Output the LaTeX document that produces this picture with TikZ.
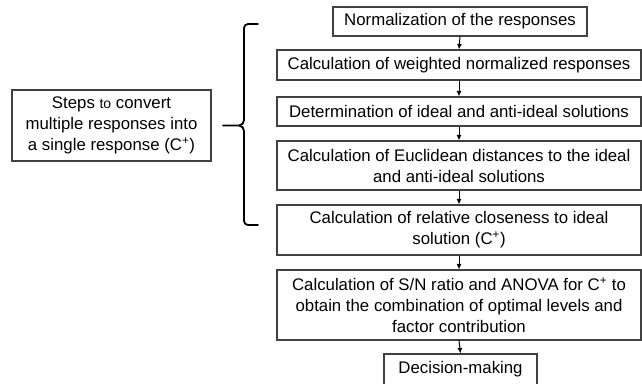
\documentclass[tikz,border=0pt]{standalone}
\usepackage{fontspec}
\setmainfont{Liberation Sans}
\usetikzlibrary{arrows.meta}
\definecolor{boxgray}{RGB}{64,64,64}

\begin{document}
\begin{tikzpicture}[x=1pt, y=-1pt,
    stepbox/.style={draw=boxgray, line width=1.1pt, align=center, inner sep=0pt,
      font=\fontsize{16.8}{21}\selectfont},
    flow/.style={line width=1pt, -{Latex[length=5.5pt, width=5pt]}},
    bracket/.style={line width=1.8pt, line cap=round, line join=round}]
  % A full-width step box: #1 = its name, #2 = y-coordinate of its center, #3 = its height, #4 = its text.
  \newcommand{\widestep}[4]{%
    \node[stepbox, minimum width=364pt, minimum height=#3pt] (#1) at (459,#2) {#4};}

  \useasboundingbox (0,0) rectangle (642,383);
  \node[stepbox, minimum width=254pt, minimum height=29pt] (norm) at (460,21.5)
    {Normalization of the responses};
  \widestep{weighted}{65}{30}{Calculation of weighted normalized responses}
  \widestep{ideal}{111.5}{29}{Determination of ideal and anti-ideal solutions}
  \widestep{euclid}{165.5}{49}{Calculation of Euclidean distances to the ideal\\and anti-ideal solutions}
  \widestep{close}{230}{50}{Calculation of relative closeness to ideal\\solution (C\textsuperscript{+})}
  \widestep{snr}{305}{70}{Calculation of S/N ratio and ANOVA for C\textsuperscript{+} to\\obtain the combination of optimal levels and\\factor contribution}
  \node[stepbox, minimum width=153pt, minimum height=31pt] (decide) at (460.5,369.5) {Decision-making};

  % the steps that give the single response
  \node[stepbox, minimum width=199pt, minimum height=71pt] (steps) at (111.5,125.5)
    {Steps {\fontsize{14}{21}\selectfont to} convert\\multiple responses into\\a single response (C\textsuperscript{+})};

  \foreach \a/\b in {norm/weighted, weighted/ideal, ideal/euclid, euclid/close, close/snr, snr/decide}
    \draw[flow] (\a.south) -- (\b.north);

  % square brace over the first five steps, its tip towards the left box
  \draw[bracket] (258,24) -- (248,24) to[out=180, in=90] (244,28) -- (244,120)
    to[out=-90, in=0] (239,125.5) -- (223,125.5);
  \draw[bracket] (239,125.5) to[out=0, in=90] (244,131) -- (244,221)
    to[out=-90, in=180] (248,225) -- (258,225);
\end{tikzpicture}
\end{document}
